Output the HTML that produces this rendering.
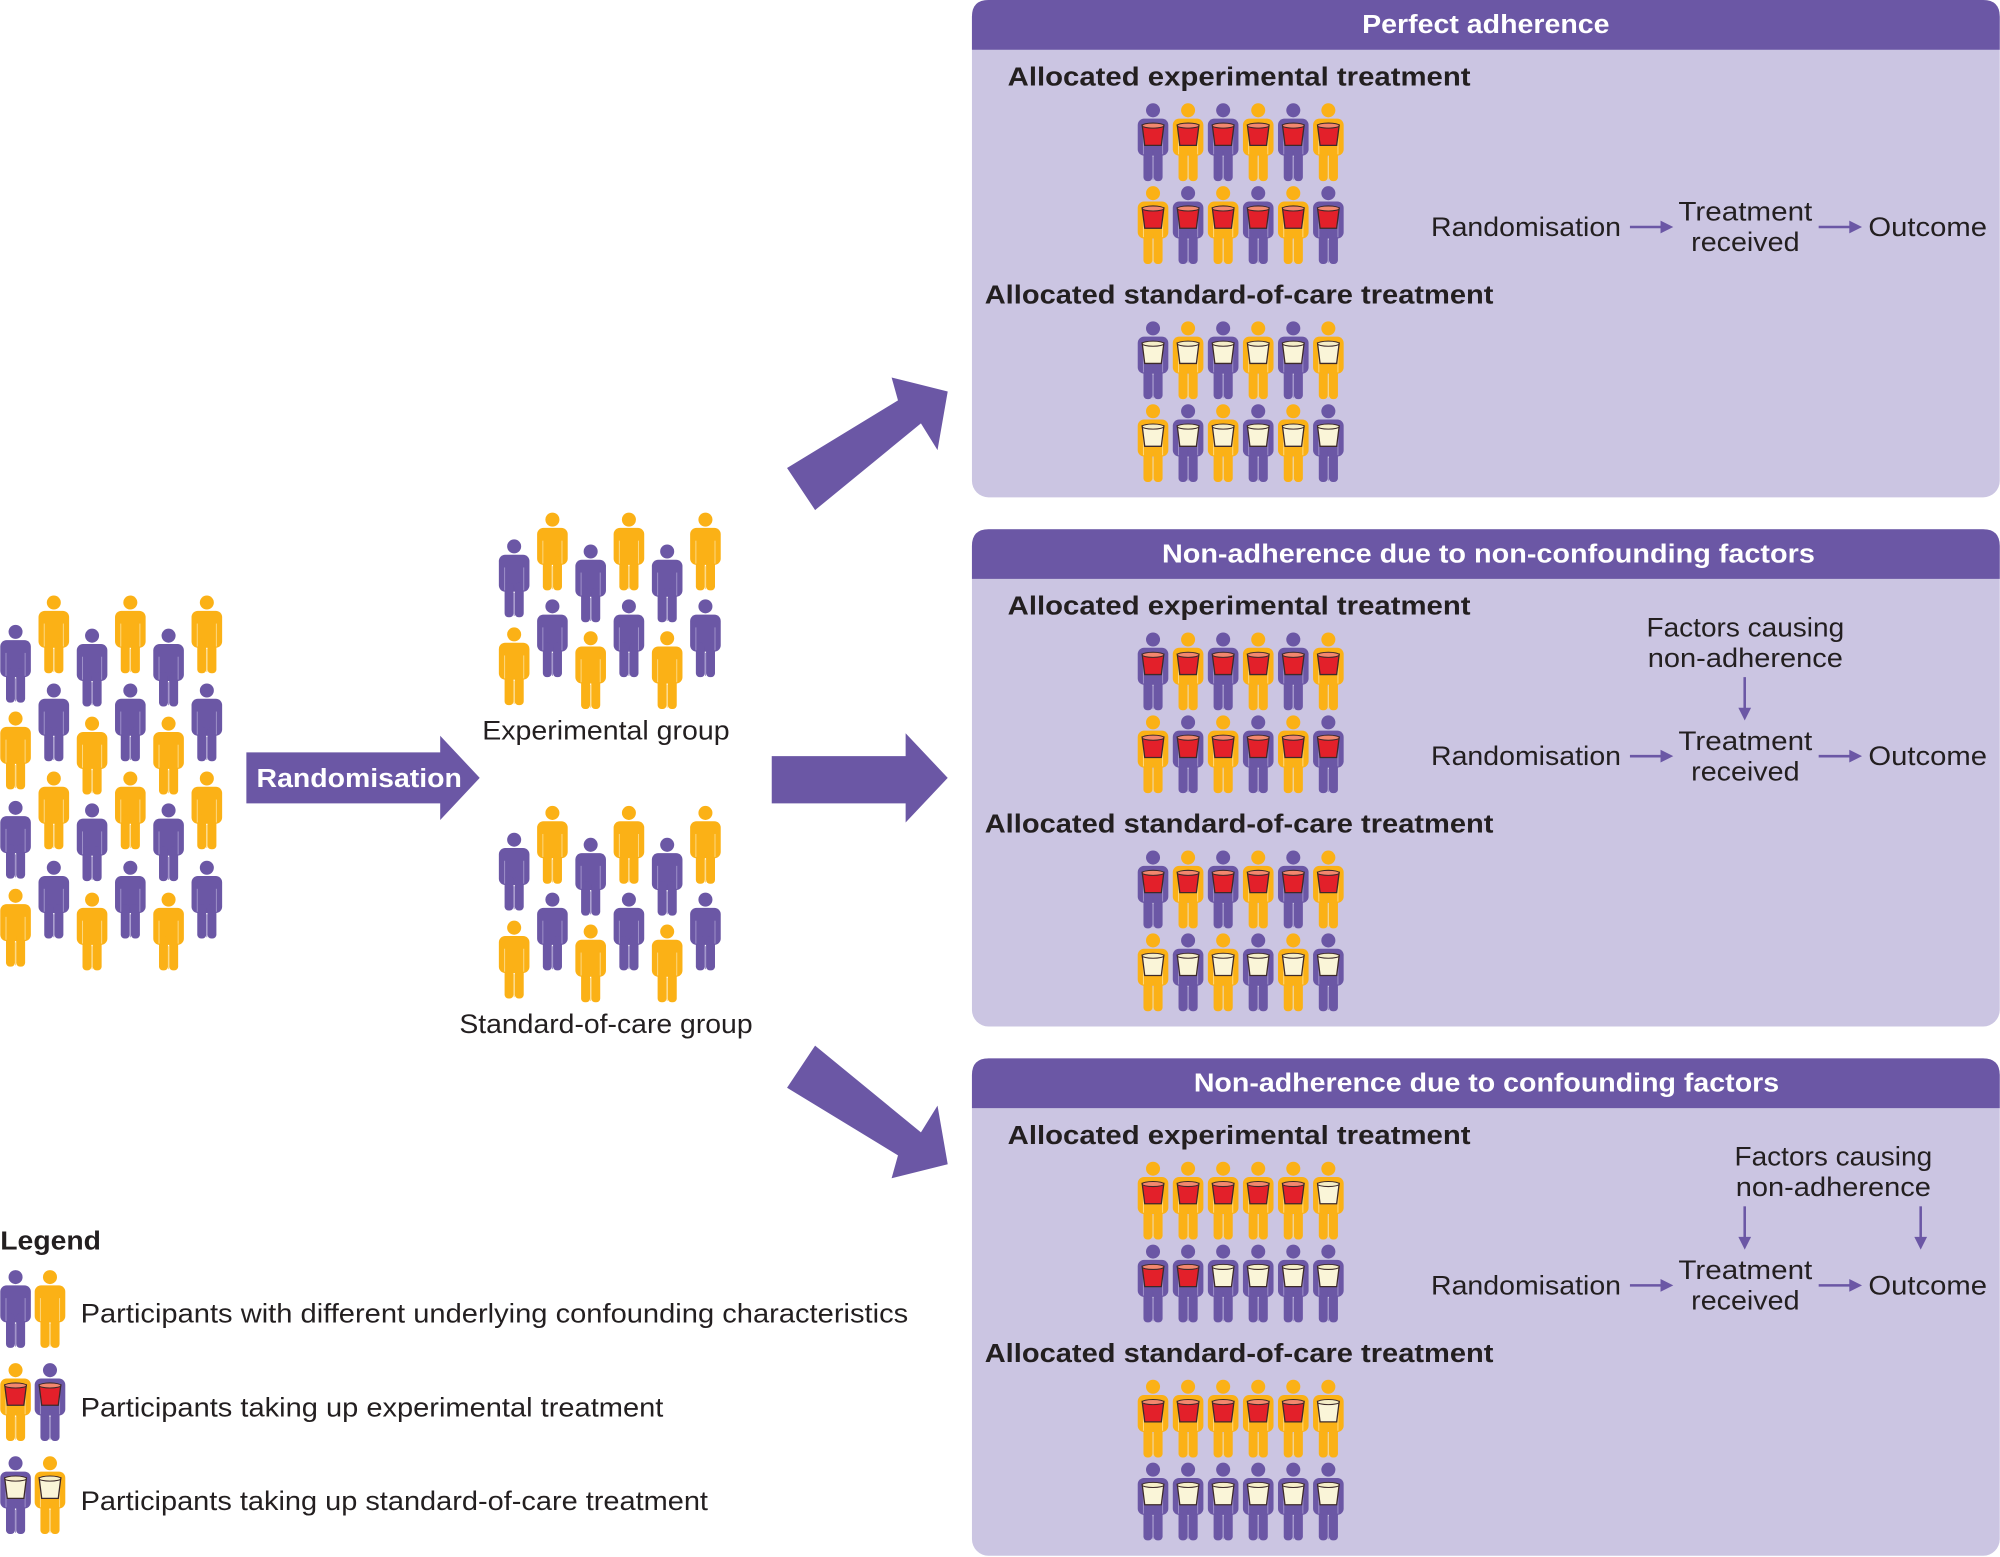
<!DOCTYPE html>
<html><head><meta charset="utf-8"><style>
html,body{margin:0;padding:0;background:#fff;}
svg{display:block;}
text{font-family:"Liberation Sans",sans-serif;fill:#231f20;}
.b{font-weight:bold;}
.w{fill:#fff;font-weight:bold;}
</style></head><body>
<svg width="2000" height="1557" viewBox="0 0 1568 1221" xmlns="http://www.w3.org/2000/svg">
<defs>
<g id="body">
<circle cx="12" cy="5.5" r="5.5"/>
<rect x="0" y="12" width="24" height="29" rx="5"/>
<rect x="4.5" y="34" width="7" height="27" rx="3"/>
<rect x="12.5" y="34" width="7" height="27" rx="3"/>
</g>
<g id="P"><use href="#body" fill="#6b57a5"/><g stroke="#9d8fc8" stroke-width="0.8"><line x1="4.5" y1="22" x2="4.5" y2="40"/><line x1="19.5" y1="22" x2="19.5" y2="40"/><line x1="12" y1="42" x2="12" y2="60"/></g></g>
<g id="Y"><use href="#body" fill="#fbb116"/><g stroke="#fdd77f" stroke-width="0.8"><line x1="4.5" y1="22" x2="4.5" y2="40"/><line x1="19.5" y1="22" x2="19.5" y2="40"/><line x1="12" y1="42" x2="12" y2="60"/></g></g>
<g id="R"><path d="M3.5,17 L20.5,17 L18.5,33 L5.5,33 Z" fill="#e3202a" stroke="#3d2a2a" stroke-width="1"/><ellipse cx="12" cy="17.5" rx="8.5" ry="2" fill="#f3876e" stroke="#3d2a2a" stroke-width="0.8"/></g>
<g id="W"><path d="M3.5,17 L20.5,17 L18.5,33 L5.5,33 Z" fill="#faf5d8" stroke="#3d2a2a" stroke-width="1"/><ellipse cx="12" cy="17.5" rx="8.5" ry="2" fill="#f5eec8" stroke="#3d2a2a" stroke-width="0.8"/></g>
<g id="PR"><use href="#P"/><use href="#R"/></g>
<g id="YR"><use href="#Y"/><use href="#R"/></g>
<g id="PW"><use href="#P"/><use href="#W"/></g>
<g id="YW"><use href="#Y"/><use href="#W"/></g>
<g id="alt1R"><use href="#PR" x="892"/><use href="#YR" x="919.5"/><use href="#PR" x="947"/><use href="#YR" x="974.5"/><use href="#PR" x="1002"/><use href="#YR" x="1029.5"/></g>
<g id="alt2R"><use href="#YR" x="892"/><use href="#PR" x="919.5"/><use href="#YR" x="947"/><use href="#PR" x="974.5"/><use href="#YR" x="1002"/><use href="#PR" x="1029.5"/></g>
<g id="alt1W"><use href="#PW" x="892"/><use href="#YW" x="919.5"/><use href="#PW" x="947"/><use href="#YW" x="974.5"/><use href="#PW" x="1002"/><use href="#YW" x="1029.5"/></g>
<g id="alt2W"><use href="#YW" x="892"/><use href="#PW" x="919.5"/><use href="#YW" x="947"/><use href="#PW" x="974.5"/><use href="#YW" x="1002"/><use href="#PW" x="1029.5"/></g>
<g id="grp"><use href="#P" x="391" y="423"/><use href="#Y" x="391" y="492"/>
<use href="#Y" x="421" y="402"/><use href="#P" x="421" y="470"/>
<use href="#P" x="451" y="427"/><use href="#Y" x="451" y="495"/>
<use href="#Y" x="481" y="402"/><use href="#P" x="481" y="470"/>
<use href="#P" x="511" y="427"/><use href="#Y" x="511" y="495"/>
<use href="#Y" x="541" y="402"/><use href="#P" x="541" y="470"/></g>
<g id="panel">
<rect x="762" y="0" width="806" height="390" rx="13" fill="#cbc5e2"/>
<path d="M762,39 L762,13 Q762,0 775,0 L1555,0 Q1568,0 1568,13 L1568,39 Z" fill="#6b57a5"/>
<text x="790" y="67" font-size="20" class="b" textLength="363" lengthAdjust="spacingAndGlyphs">Allocated experimental treatment</text>
<text x="772" y="238" font-size="20" class="b" textLength="399" lengthAdjust="spacingAndGlyphs">Allocated standard-of-care treatment</text>
<text x="1122" y="185" font-size="21" textLength="149" lengthAdjust="spacingAndGlyphs">Randomisation</text>
<text x="1316" y="173" font-size="21" textLength="105" lengthAdjust="spacingAndGlyphs">Treatment</text>
<text x="1326" y="197" font-size="21" textLength="85" lengthAdjust="spacingAndGlyphs">received</text>
<text x="1465" y="185" font-size="21" textLength="93" lengthAdjust="spacingAndGlyphs">Outcome</text>
<g stroke="#6b57a5" stroke-width="2"><line x1="1278" y1="178" x2="1304" y2="178"/><line x1="1426" y1="178" x2="1452" y2="178"/></g>
<g fill="#6b57a5"><path d="M1302,173 L1312,178 L1302,183Z"/><path d="M1450,173 L1460,178 L1450,183Z"/></g>
</g>
</defs>

<use href="#P" x="0" y="490"/><use href="#Y" x="0" y="558"/><use href="#P" x="0" y="628"/><use href="#Y" x="0" y="697"/>
<use href="#Y" x="30" y="467"/><use href="#P" x="30" y="536"/><use href="#Y" x="30" y="605"/><use href="#P" x="30" y="675"/>
<use href="#P" x="60" y="493"/><use href="#Y" x="60" y="562"/><use href="#P" x="60" y="630"/><use href="#Y" x="60" y="700"/>
<use href="#Y" x="90" y="467"/><use href="#P" x="90" y="536"/><use href="#Y" x="90" y="605"/><use href="#P" x="90" y="675"/>
<use href="#P" x="120" y="493"/><use href="#Y" x="120" y="562"/><use href="#P" x="120" y="630"/><use href="#Y" x="120" y="700"/>
<use href="#Y" x="150" y="467"/><use href="#P" x="150" y="536"/><use href="#Y" x="150" y="605"/><use href="#P" x="150" y="675"/>

<path d="M193,590 L345,590 L345,577 L376,610 L345,643 L345,630 L193,630Z" fill="#6b57a5"/>
<text x="201" y="617" font-size="20" class="w" textLength="161" lengthAdjust="spacingAndGlyphs">Randomisation</text>

<use href="#grp"/>
<use href="#grp" y="230"/>
<text x="378" y="580" font-size="21" textLength="194" lengthAdjust="spacingAndGlyphs">Experimental group</text>
<text x="360" y="810" font-size="21" textLength="230" lengthAdjust="spacingAndGlyphs">Standard-of-care group</text>

<g fill="#6b57a5">
<path d="M605,593 L710,593 L710,575 L743,610 L710,645 L710,630 L605,630Z"/>
<path d="M617,367 L704,314 L699,296 L743,307 L735,353 L722,332 L639,400Z"/>
<path d="M617,853 L704,906 L699,924 L743,913 L735,867 L722,888 L639,820Z"/>
</g>

<use href="#panel"/>
<text x="1068" y="26" font-size="20" class="w" textLength="194" lengthAdjust="spacingAndGlyphs">Perfect adherence</text>
<use href="#alt1R" y="81"/><use href="#alt2R" y="146"/><use href="#alt1W" y="252"/><use href="#alt2W" y="317"/>

<use href="#panel" y="415"/>
<text x="911" y="441" font-size="20" class="w" textLength="512" lengthAdjust="spacingAndGlyphs">Non-adherence due to non-confounding factors</text>
<use href="#alt1R" y="496"/><use href="#alt2R" y="561"/><use href="#alt1R" y="667"/><use href="#alt2W" y="732"/>
<text x="1291" y="499" font-size="21" textLength="155" lengthAdjust="spacingAndGlyphs">Factors causing</text>
<text x="1292" y="523" font-size="21" textLength="153" lengthAdjust="spacingAndGlyphs">non-adherence</text>
<line x1="1368" y1="531" x2="1368" y2="556" stroke="#6b57a5" stroke-width="2"/>
<path d="M1363,555 L1368,565 L1373,555Z" fill="#6b57a5"/>

<use href="#panel" y="830"/>
<text x="936" y="856" font-size="20" class="w" textLength="459" lengthAdjust="spacingAndGlyphs">Non-adherence due to confounding factors</text>
<g transform="translate(0,911)"><use href="#YR" x="892"/><use href="#YR" x="919.5"/><use href="#YR" x="947"/><use href="#YR" x="974.5"/><use href="#YR" x="1002"/><use href="#YW" x="1029.5"/></g>
<g transform="translate(0,976)"><use href="#PR" x="892"/><use href="#PR" x="919.5"/><use href="#PW" x="947"/><use href="#PW" x="974.5"/><use href="#PW" x="1002"/><use href="#PW" x="1029.5"/></g>
<g transform="translate(0,1082)"><use href="#YR" x="892"/><use href="#YR" x="919.5"/><use href="#YR" x="947"/><use href="#YR" x="974.5"/><use href="#YR" x="1002"/><use href="#YW" x="1029.5"/></g>
<g transform="translate(0,1147)"><use href="#PW" x="892"/><use href="#PW" x="919.5"/><use href="#PW" x="947"/><use href="#PW" x="974.5"/><use href="#PW" x="1002"/><use href="#PW" x="1029.5"/></g>
<text x="1360" y="914" font-size="21" textLength="155" lengthAdjust="spacingAndGlyphs">Factors causing</text>
<text x="1361" y="938" font-size="21" textLength="153" lengthAdjust="spacingAndGlyphs">non-adherence</text>
<g stroke="#6b57a5" stroke-width="2"><line x1="1368" y1="946" x2="1368" y2="971"/><line x1="1506" y1="946" x2="1506" y2="971"/></g>
<g fill="#6b57a5"><path d="M1363,970 L1368,980 L1373,970Z"/><path d="M1501,970 L1506,980 L1511,970Z"/></g>

<text x="0" y="980" font-size="20" class="b" textLength="79" lengthAdjust="spacingAndGlyphs">Legend</text>
<use href="#P" x="0" y="996"/><use href="#Y" x="27" y="996"/>
<text x="63" y="1037" font-size="21" textLength="649" lengthAdjust="spacingAndGlyphs">Participants with different underlying confounding characteristics</text>
<use href="#YR" x="0" y="1069"/><use href="#PR" x="27" y="1069"/>
<text x="63" y="1111" font-size="21" textLength="457" lengthAdjust="spacingAndGlyphs">Participants taking up experimental treatment</text>
<use href="#PW" x="0" y="1142"/><use href="#YW" x="27" y="1142"/>
<text x="63" y="1184" font-size="21" textLength="492" lengthAdjust="spacingAndGlyphs">Participants taking up standard-of-care treatment</text>
</svg>
</body></html>
